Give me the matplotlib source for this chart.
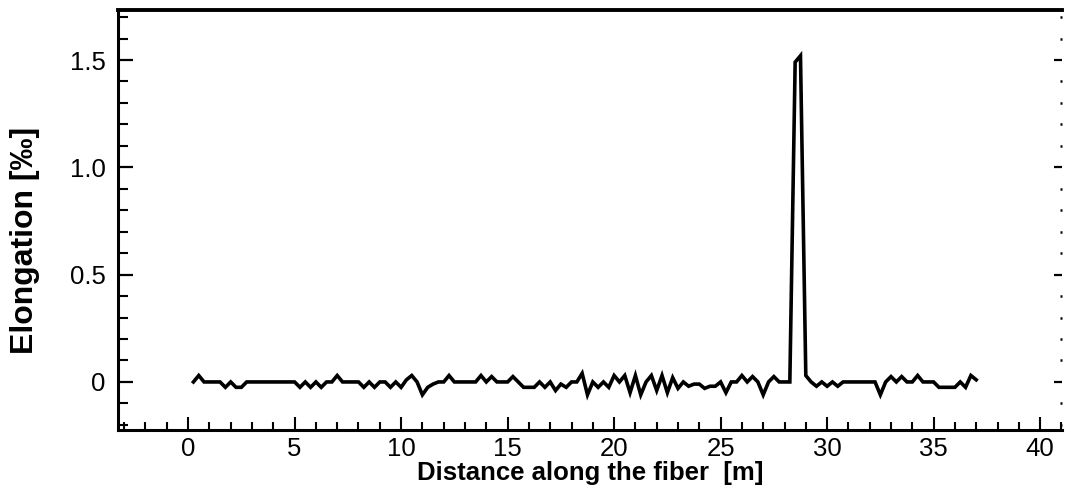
import matplotlib
matplotlib.use('Agg')
import matplotlib.pyplot as plt
import numpy as np
from matplotlib.ticker import MultipleLocator, FixedLocator

plt.rcParams['font.family'] = ['Liberation Sans', 'DejaVu Sans']

# elongation, one sample every 0.25 m starting at 0.25 m
step = 0.25
elongation = [
    0.0, 0.03, 0.0, 0.0,
    0.0, 0.0, -0.025, 0.0,
    -0.025, -0.025, 0.0, 0.0,
    0.0, 0.0, 0.0, 0.0,
    0.0, 0.0, 0.0, 0.0,
    -0.025, 0.0, -0.025, 0.0,
    -0.025, 0.0, 0.0, 0.03,
    0.0, 0.0, 0.0, 0.0,
    -0.025, 0.0, -0.025, 0.0,
    0.0, -0.025, 0.0, -0.025,
    0.01, 0.03, 0.0, -0.06,
    -0.025, -0.01, 0.0, 0.0,
    0.03, 0.0, 0.0, 0.0,
    0.0, 0.0, 0.03, 0.0,
    0.025, 0.0, 0.0, 0.0,
    0.025, 0.0, -0.025, -0.025,
    -0.025, 0.0, -0.025, 0.0,
    -0.04, -0.01, -0.025, 0.0,
    0.0, 0.04, -0.06, 0.0,
    -0.025, 0.0, -0.025, 0.03,
    0.0, 0.03, -0.05, 0.03,
    -0.06, 0.0, 0.03, -0.04,
    0.03, -0.05, 0.02, -0.03,
    0.0, -0.02, -0.01, -0.01,
    -0.03, -0.02, -0.02, 0.0,
    -0.05, 0.0, 0.0, 0.03,
    0.0, 0.025, 0.0, -0.06,
    0.0, 0.025, 0.0, 0.0,
    0.0, 1.49, 1.52, 0.03,
    0.0, -0.02, 0.0, -0.02,
    0.0, -0.02, 0.0, 0.0,
    0.0, 0.0, 0.0, 0.0,
    0.0, -0.06, 0.0, 0.025,
    0.0, 0.025, 0.0, 0.0,
    0.03, 0.0, 0.0, 0.0,
    -0.025, -0.025, -0.025, -0.025,
    0.0, -0.025, 0.03, 0.01,
]
distance = step * (np.arange(len(elongation)) + 1)

y_ticks = [0, 0.5, 1.0, 1.5]
y_tick_labels = ["0", "0.5", "1.0", "1.5"]

fig = plt.figure(figsize=(10.69, 4.90), dpi=100)
ax = fig.add_axes([0.1104, 0.1224, 0.8831, 0.8572])

ax.plot(distance, elongation, color='black', lw=2.6, solid_joinstyle='miter')

ax.set_xlim(-3.29, 41.03)
ax.set_ylim(-0.224, 1.733)

ax.xaxis.set_major_locator(MultipleLocator(5))
ax.xaxis.set_minor_locator(MultipleLocator(1))
ax.yaxis.set_major_locator(FixedLocator(y_ticks))
ax.yaxis.set_minor_locator(MultipleLocator(0.1))
ax.set_yticklabels(y_tick_labels)

ax.tick_params(axis='x', which='major', direction='in', length=9.5, width=1.5,
               top=False, labelsize=18.5, pad=5)
ax.tick_params(axis='x', which='minor', direction='in', length=6, width=1.5, top=False)
ax.tick_params(axis='y', which='major', direction='in', length=11, width=1.6,
               right=False, labelsize=18.5, pad=9)
ax.tick_params(axis='y', which='minor', direction='in', length=7, width=1.5, right=False)

# right side: short dashes for major ticks, dots for minor ones
right = ax.secondary_yaxis('right')
right.yaxis.set_major_locator(FixedLocator(y_ticks))
right.yaxis.set_minor_locator(MultipleLocator(0.1))
right.spines['right'].set_visible(False)
right.tick_params(which='major', direction='in', length=6, width=1.6, labelright=False)
right.tick_params(which='minor', direction='in', length=1.5, width=1.8)

ax.spines['right'].set_visible(False)
ax.spines['left'].set_linewidth(2.2)
ax.spines['bottom'].set_linewidth(2.2)
ax.spines['top'].set_linewidth(2.8)

ax.set_xlabel("Distance along the fiber  [m]", fontsize=18.5, fontweight='bold', labelpad=0)
ax.set_ylabel("Elongation [‰]", fontsize=23, fontweight='bold')
ax.yaxis.set_label_coords(-0.083, 0.452)

fig.savefig('out.png', dpi=100)
